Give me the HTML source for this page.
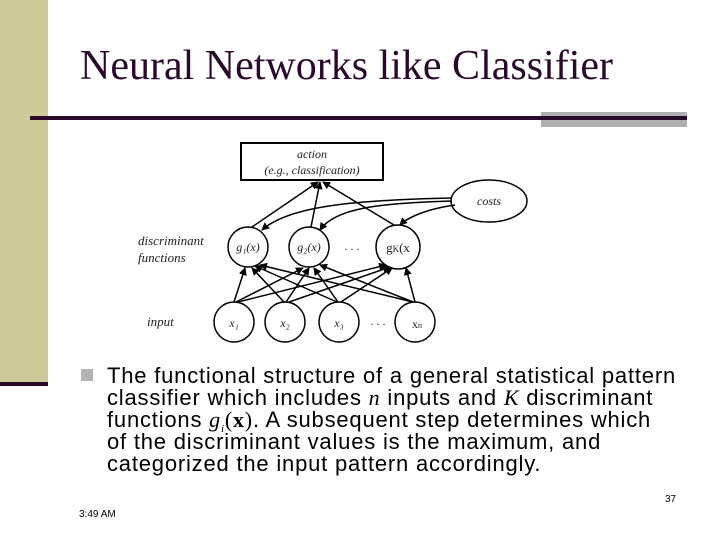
<!DOCTYPE html>
<html><head><meta charset="utf-8"><style>
body{margin:0;width:720px;height:540px;background:#fff;position:relative;overflow:hidden;font-family:"Liberation Sans",sans-serif}
.abs{position:absolute}
</style></head><body>
<div class="abs" style="left:0;top:0;width:48px;height:382px;background:#cdcb9a"></div>
<div class="abs" style="left:0;top:382px;width:48px;height:4px;background:#2a0a2a"></div>
<div class="abs" style="left:541px;top:112px;width:146px;height:15px;background:#b0b0b0"></div>
<div class="abs" style="left:30px;top:116px;width:657px;height:4px;background:#2a0a2a"></div>
<div class="abs" style="left:80px;top:42px;font:42px 'Liberation Serif',serif;color:#2a0a2a;white-space:nowrap">Neural Networks like Classifier</div>
<svg class="abs" style="left:0;top:0" width="720" height="540" font-family="Liberation Serif,serif" font-style="italic">
<defs><marker id="a" markerWidth="8" markerHeight="8" refX="7" refY="4" orient="auto" markerUnits="userSpaceOnUse"><path d="M0,0 L8,4 L0,8z" fill="#000"/></marker></defs>
<g stroke="#000" stroke-width="1.5" fill="none">
<rect x="241" y="143" width="142" height="37" stroke-width="2"/>
<ellipse cx="489" cy="201" rx="38" ry="21"/>
<circle cx="248" cy="247" r="20"/><circle cx="309" cy="247" r="20"/><circle cx="398" cy="247" r="22"/>
<circle cx="234" cy="322" r="20"/><circle cx="285" cy="322" r="20"/><circle cx="339" cy="322" r="20"/><circle cx="415" cy="322" r="20"/>
<g marker-end="url(#a)">
<line x1="252" y1="227" x2="318" y2="182"/><line x1="311" y1="227" x2="320" y2="182"/><line x1="394" y1="225" x2="323" y2="182"/>
<path d="M452,198 C360,200 290,205 262,230"/>
<path d="M452,201 C380,203 335,208 320,230"/>
<path d="M455,205 C420,210 405,220 400,225"/>
<line x1="234" y1="302" x2="245" y2="268"/><line x1="236" y1="302" x2="303" y2="268"/><line x1="238" y1="302" x2="386" y2="265"/>
<line x1="284" y1="302" x2="252" y2="268"/><line x1="286" y1="302" x2="309" y2="268"/><line x1="289" y1="302" x2="390" y2="267"/>
<line x1="337" y1="302" x2="255" y2="266"/><line x1="338" y1="302" x2="314" y2="268"/><line x1="341" y1="302" x2="392" y2="268"/>
<line x1="413" y1="302" x2="260" y2="265"/><line x1="413" y1="302" x2="320" y2="265"/><line x1="415" y1="302" x2="406" y2="268"/>
</g></g>
<g font-size="12" fill="#222">
<text x="312" y="158" text-anchor="middle">action</text>
<text x="312" y="174" text-anchor="middle">(e.g., classification)</text>
<text x="489" y="205" text-anchor="middle">costs</text>
<text x="138" y="245" font-size="13">discriminant</text>
<text x="138" y="262" font-size="13">functions</text>
<text x="147" y="326" font-size="13">input</text>
<text x="248" y="251" text-anchor="middle">g₁(x)</text>
<text x="309" y="251" text-anchor="middle">g₂(x)</text>
<text x="398" y="252" text-anchor="middle" font-style="normal" font-size="13">g<tspan font-size="9">K</tspan>(x</text>
<text x="234" y="327" text-anchor="middle">x₁</text><text x="285" y="327" text-anchor="middle">x₂</text><text x="339" y="327" text-anchor="middle">x₃</text>
<text x="417" y="328" text-anchor="middle" font-style="normal">x<tspan font-size="8">n</tspan></text>
<text x="352" y="250" text-anchor="middle" font-style="normal">. . .</text>
<text x="378" y="325" text-anchor="middle" font-style="normal">. . .</text>
</g></svg>
<div class="abs" style="left:81px;top:369px;width:12px;height:12px;background:#b4b4b4"></div>
<div class="abs" style="left:107px;top:365px;width:610px;font-size:22px;letter-spacing:0.8px;line-height:22px;color:#000;white-space:nowrap">The functional structure of a general statistical pattern<br>classifier which includes <i style="font-family:'Liberation Serif',serif">n</i> inputs and <i style="font-family:'Liberation Serif',serif">K</i> discriminant<br>functions <span style="font-family:'Liberation Serif',serif;line-height:0"><i>g</i><i style="font-size:11px;position:relative;top:5px;line-height:0">i</i>(<b>x</b>)</span>. A subsequent step determines which<br>of the discriminant values is the maximum, and<br>categorized the input pattern accordingly.</div>
<div class="abs" style="left:665px;top:494px;font-size:10px">37</div>
<div class="abs" style="left:79px;top:509px;font-size:10px">3:49 AM</div>
</body></html>
